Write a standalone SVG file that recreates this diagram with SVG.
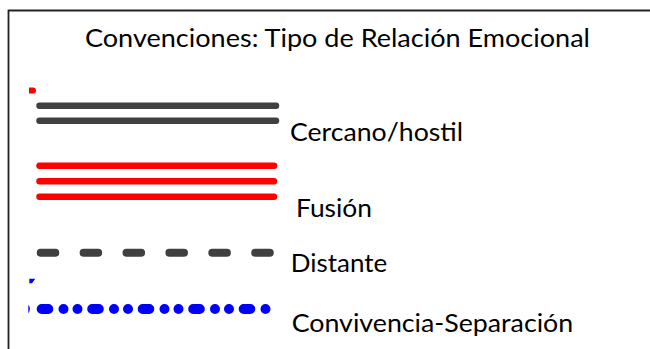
<svg xmlns="http://www.w3.org/2000/svg" width="650" height="349" viewBox="0 0 650 349">
<style>
.t{font-family:"Lato","Open Sans","Liberation Sans",sans-serif;font-size:25px;fill:#000}
.g{fill:none;stroke:#404040;stroke-linecap:round}
.r{fill:none;stroke:#ff0000;stroke-width:6.5;stroke-linecap:round}
.b{fill:none;stroke:#0000ff;stroke-width:10;stroke-linecap:round}
</style>
<rect width="650" height="349" fill="#ffffff"/>
<g id="frame">
<path d="M8.5 349 V10.5 H650" fill="none" stroke="#222" stroke-width="1.8"/>
</g>
<g id="title">
<text class="t" x="85" y="47" textLength="505" lengthAdjust="spacingAndGlyphs">Convenciones: Tipo de Relación Emocional</text>
</g>
<g id="connectors">
<path d="M29 87.5 H33 A3 3 0 0 1 33 93.5 H29 Z" fill="#ff0000"/>
<path class="g" stroke-width="6.5" d="M39.5 105.7 H276"/>
<path class="g" stroke-width="6.5" d="M39.5 120.7 H276"/>
<path class="r" d="M39.5 165.7 H274"/>
<path class="r" d="M39.5 181.3 H274"/>
<path class="r" d="M39.5 196.7 H274"/>
<path class="g" stroke-width="8" stroke-dasharray="14.6 28.3" d="M40.7 252.7 H270"/>
<path d="M29.3 278.7 H35.3 L32 283.3 H29.3 Z" fill="#0000ff"/>
<path d="M28.3 304.5 Q31.5 309 28.3 313.5 Z" fill="#0000ff"/>
<path class="b" stroke-dasharray="6.6 15.2 0 14 0 14.7" d="M41.7 309 H266"/>
</g>
<g id="legend-cercano">
<text class="t" x="290" y="140.7" textLength="173" lengthAdjust="spacingAndGlyphs">Cercano/hostil</text>
</g>
<g id="legend-fusion">
<text class="t" x="296" y="217.3" textLength="76" lengthAdjust="spacingAndGlyphs">Fusión</text>
</g>
<g id="legend-distante">
<text class="t" x="290.7" y="272.3" textLength="96.5" lengthAdjust="spacingAndGlyphs">Distante</text>
</g>
<g id="legend-convivencia">
<text class="t" x="291.7" y="331.7" textLength="281.5" lengthAdjust="spacingAndGlyphs">Convivencia-Separación</text>
</g>
</svg>
